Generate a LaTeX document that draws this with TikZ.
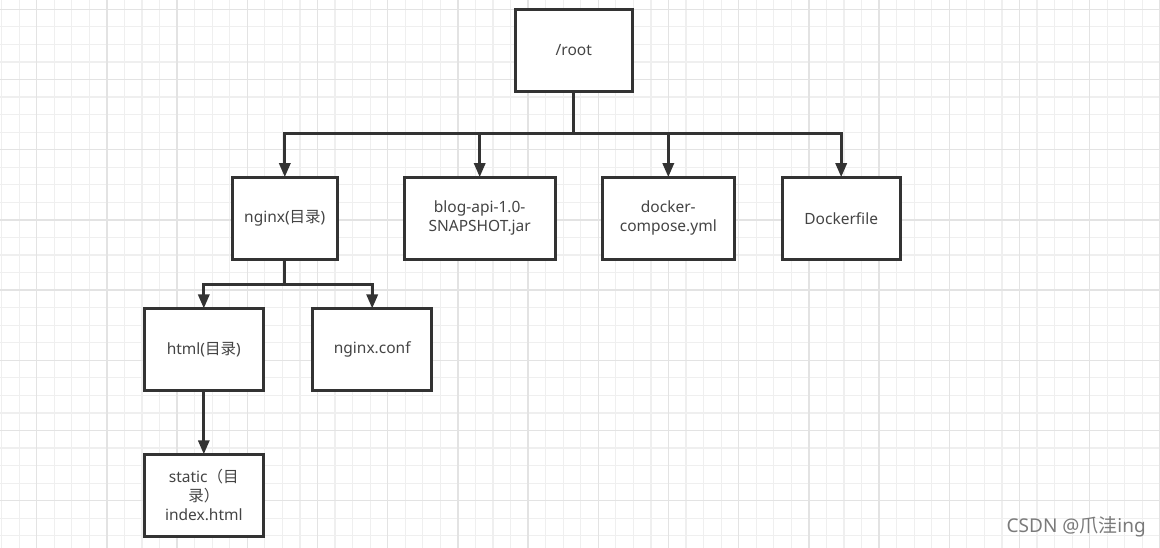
\documentclass[tikz,border=0pt]{standalone}
\usepackage{fontspec}
\setmainfont{Noto Sans}
\newfontfamily\cjk{Noto Sans CJK SC}
\usepackage{tikz}
\usetikzlibrary{arrows.meta}
\definecolor{gridminor}{HTML}{EFEFEF}
\definecolor{gridmajor}{HTML}{E3E3E3}
\definecolor{boxline}{HTML}{333333}
\definecolor{boxtext}{HTML}{444444}
\definecolor{marktext}{HTML}{7A7A7A}
\tikzset{
    file/.style = {draw=boxline,line width=3pt,fill=white,text=boxtext,align=center,
        inner sep=0,outer sep=0,minimum height=82pt,font=\fontsize{15.5}{19}\selectfont},
    tree/.style = {draw=boxline,line width=3pt,-{Triangle[length=14pt,width=11pt]}},
    gridline/.style = {draw=gridminor,line width=1.2pt},
    gridmain/.style = {draw=gridmajor,line width=1.4pt}
}

\begin{document}
\begin{tikzpicture}[x=1pt,y=-1pt]
        \useasboundingbox (0,0) rectangle (1160,548);
        \clip (0,0) rectangle (1160,548);
        % Grid
        \foreach \i in {0,...,66}
            \draw[gridline] (1.6+17.55*\i,0) -- (1.6+17.55*\i,548);
        \foreach \j in {0,...,31}
            \draw[gridline] (0,9.3+17.55*\j) -- (1160,9.3+17.55*\j);
        \foreach \i in {0,...,16}
            \draw[gridmain] (36.7+70.2*\i,0) -- (36.7+70.2*\i,548);
        \foreach \j in {0,...,7}
            \draw[gridmain] (0,9.3+70.2*\j) -- (1160,9.3+70.2*\j);
        % Folders and files
        \node[file,minimum width=117pt] (root) at (573.8,50.2) {/root};
        \node[file,minimum width=105pt] (nginx) at (284.8,218.2) {nginx({\cjk 目录})};
        \node[file,minimum width=151pt] (jar) at (479.7,218.2) {blog-api-1.0-\\SNAPSHOT.jar};
        \node[file,minimum width=132pt] (compose) at (668.3,218.2) {docker-\\compose.yml};
        \node[file,minimum width=118pt] (dockerfile) at (841.2,218.2) {Dockerfile};
        \node[file,minimum width=119pt] (html) at (203.8,349.5) {html({\cjk 目录})};
        \node[file,minimum width=119pt] (conf) at (372.2,349.5) {nginx.conf};
        \node[file,minimum width=119pt] (static) at (203.8,495.3) {static{\cjk （目}\\{\cjk 录）}\\index.html};
        % Branch points
        \coordinate (rootbus) at (573.8,134);
        \coordinate (nginxbus) at (284.8,285);
        % Connectors
        \foreach \dest in {nginx,jar,compose,dockerfile}
            \draw[tree] (root.south) -- (rootbus) -| (\dest.north);
        \foreach \dest in {html,conf}
            \draw[tree] (nginx.south) -- (nginxbus) -| (\dest.north);
        \draw[tree] (html.south) -- (static.north);
        % Watermark
        \node[anchor=east,inner sep=0,text=marktext,font=\fontsize{19}{22}\selectfont]
            (mark) at (1146,527) {CSDN @{\cjk 爪洼}ing};
    \end{tikzpicture}
\end{document}
